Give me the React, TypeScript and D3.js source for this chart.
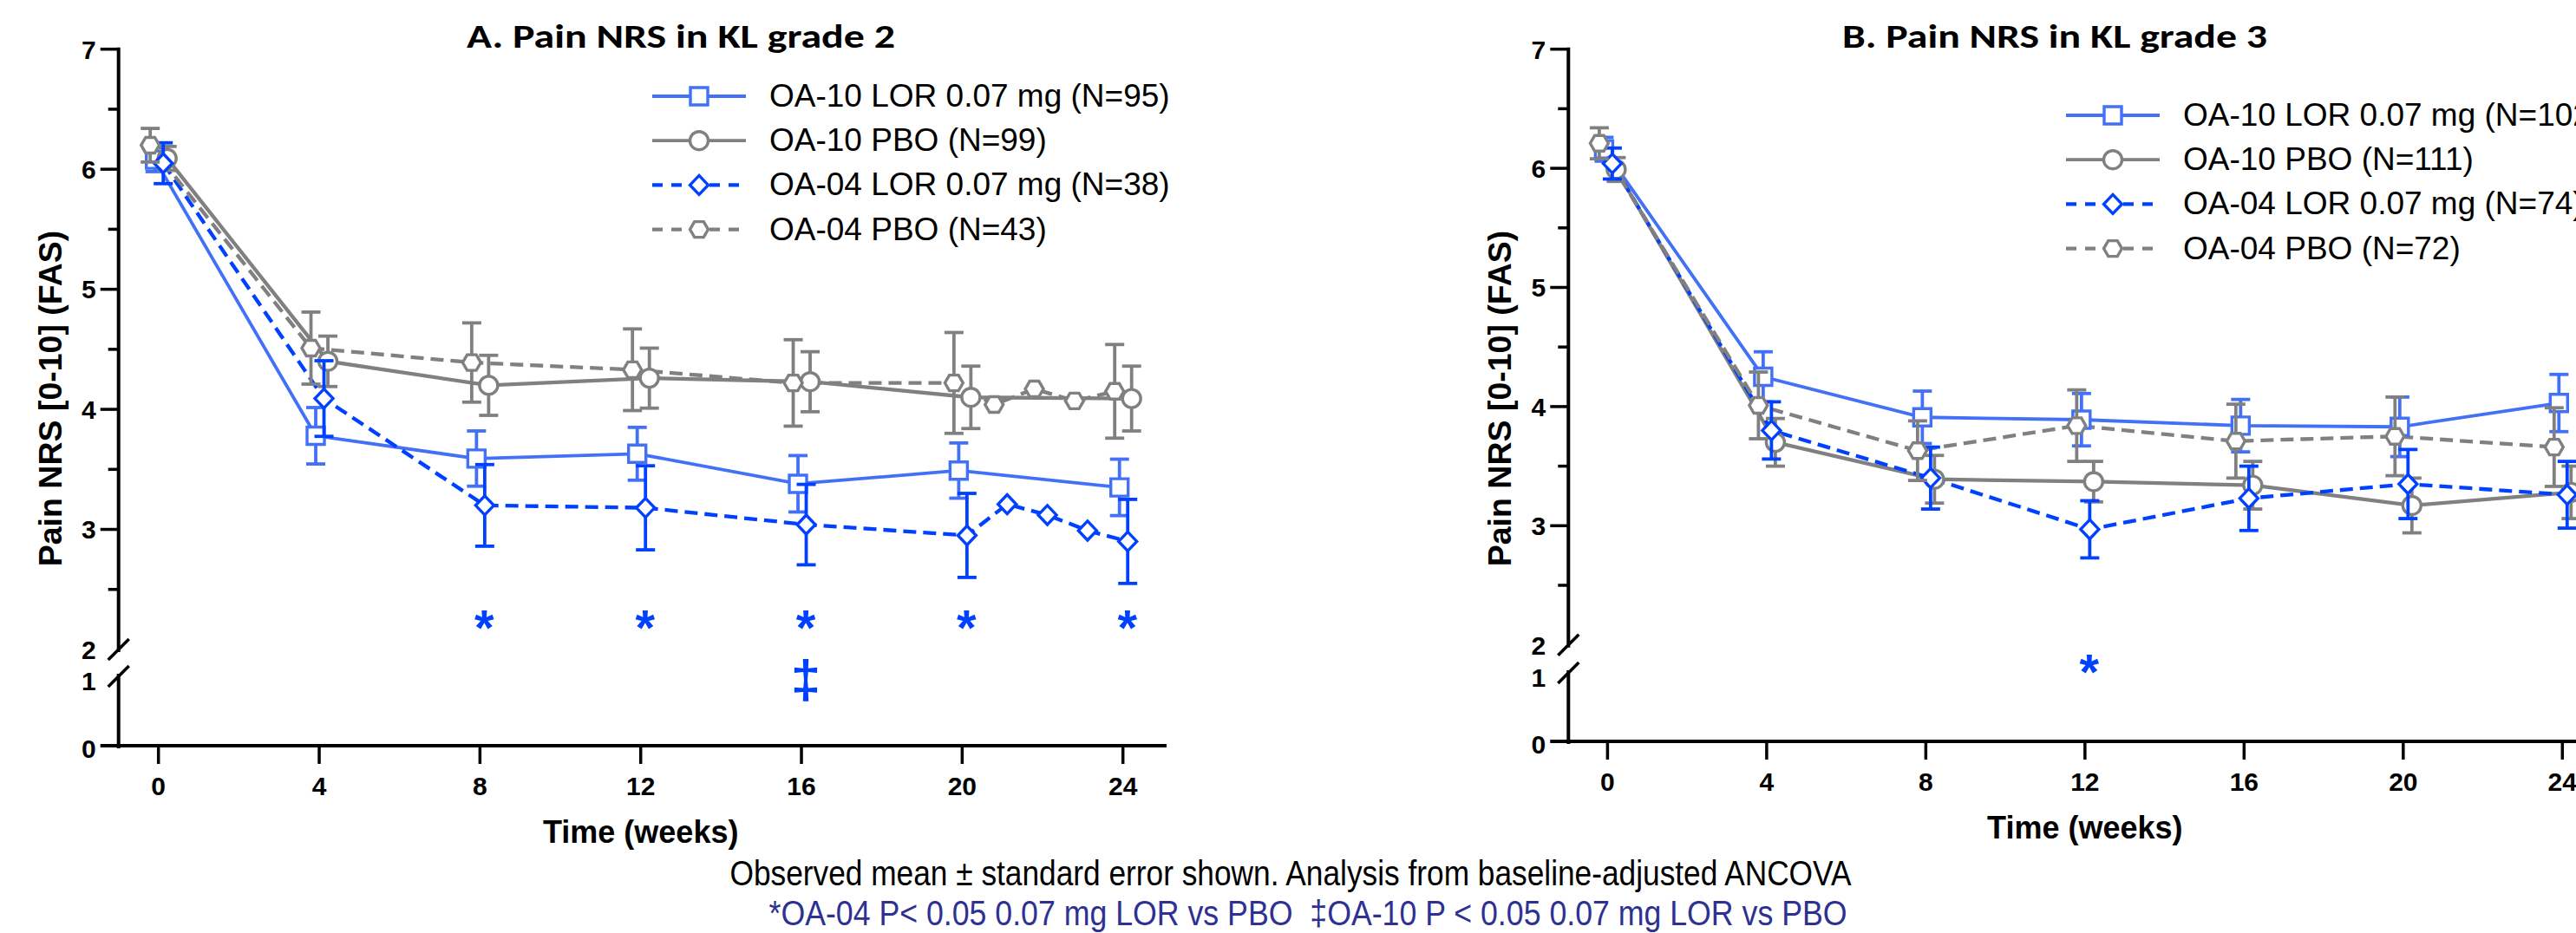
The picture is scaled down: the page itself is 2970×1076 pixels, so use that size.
import React from 'react';
import * as d3 from 'd3';

// time points (weeks)
const WEEKS = [0, 4, 8, 12, 16, 20, 24];
const WEEKS_A04 = [0, 4, 8, 12, 16, 20, 21, 22, 23, 24];
const X_TICKS = [0, 4, 8, 12, 16, 20, 24];
const Y_MAJOR = [3, 4, 5, 6, 7];
const Y_MINOR = [2.5, 3.5, 4.5, 5.5, 6.5];

const SERIES_NAMES = ['OA-10 LOR 0.07 mg', 'OA-10 PBO', 'OA-04 LOR 0.07 mg', 'OA-04 PBO'];
const N_A = [95, 99, 38, 43];
const N_B = [102, 111, 74, 72];

// panel A - KL grade 2
const A_LOR10 = [6.08, 3.78, 3.59, 3.63, 3.38, 3.49, 3.35];
const A_LOR10_SE = [0.1, 0.235, 0.23, 0.22, 0.235, 0.23, 0.235];
const A_PBO10 = [6.09, 4.4, 4.2, 4.26, 4.23, 4.1, 4.09];
const A_PBO10_SE = [0.1, 0.21, 0.25, 0.25, 0.25, 0.26, 0.27];
const A_LOR04 = [6.05, 4.09, 3.2, 3.18, 3.04, 2.95, 3.21, 3.12, 2.99, 2.9];
const A_LOR04_SE = [0.17, 0.315, 0.34, 0.35, 0.335, 0.35, null, null, null, 0.35];
const A_PBO04 = [6.2, 4.51, 4.39, 4.33, 4.22, 4.22, 4.04, 4.17, 4.07, 4.15];
const A_PBO04_SE = [0.14, 0.3, 0.33, 0.34, 0.36, 0.42, null, null, null, 0.39];

// panel B - KL grade 3
const B_LOR10 = [6.16, 4.25, 3.91, 3.89, 3.84, 3.83, 4.03];
const B_LOR10_SE = [0.1, 0.21, 0.22, 0.22, 0.22, 0.25, 0.24];
const B_PBO10 = [5.99, 3.7, 3.39, 3.37, 3.34, 3.17, 3.28];
const B_PBO10_SE = [0.1, 0.2, 0.2, 0.17, 0.2, 0.23, 0.22];
const B_LOR04 = [6.04, 3.8, 3.4, 2.97, 3.23, 3.35, 3.26];
const B_LOR04_SE = [0.13, 0.24, 0.26, 0.24, 0.27, 0.29, 0.28];
const B_PBO04 = [6.21, 4.01, 3.63, 3.84, 3.71, 3.75, 3.66];
const B_PBO04_SE = [0.13, 0.28, 0.25, 0.3, 0.31, 0.33, 0.33];

// significance marks
const A_STAR_WEEKS = [8, 12, 16, 20, 24];
const A_DAGGER_WEEKS = [16];
const B_STAR_WEEKS = [12];

const BLUE10 = '#4270F6';
const BLUE04 = '#0041FF';
const GRAY = '#808080';
const NAVY = '#2E3192';

const STYLES = [
  { color: BLUE10, dash: null, marker: 'square', dx: -4, width: 3.8 },
  { color: GRAY, dash: null, marker: 'circle', dx: 10, width: 4.3 },
  { color: BLUE04, dash: '15,8', marker: 'diamond', dx: 5.5, width: 4.3 },
  { color: GRAY, dash: '15,8', marker: 'hexagon', dx: -9.5, width: 4.3 },
];
const LEGEND_DASH = '12,10';

const ARIAL = "'Liberation Sans', Arial, sans-serif";
const NARROW = "'Liberation Sans Narrow', 'Arial Narrow', 'Liberation Sans', sans-serif";

function markerPath(type: string) {
  if (type === 'square') return 'M-10,-10H10V10H-10Z';
  if (type === 'diamond') return 'M0,-11L10.5,0L0,11L-10.5,0Z';
  if (type === 'hexagon') return 'M-10.5,0L-5.25,-9L5.25,-9L10.5,0L5.25,9L-5.25,9Z';
  return d3.arc()({ innerRadius: 0, outerRadius: 10.5, startAngle: 0, endAngle: 2 * Math.PI }) as string;
}

function Marker({ type, color, x, y }: any) {
  return (
    <path d={markerPath(type)} transform={`translate(${x},${y})`} fill="#fff" stroke={color} strokeWidth={3.4} />
  );
}

function Panel({ p }: any) {
  const x = d3.scaleLinear().domain([0, 24]).range(p.xRange);
  const y = d3.scaleLinear().domain([2, 7]).range([p.y2, p.y7]);
  const yLow = d3.scaleLinear().domain([0, 1]).range([p.y0, p.y1]);
  const ax = p.axisX;

  const series = p.series.map((s: any, i: number) => ({ ...s, ...STYLES[i], name: SERIES_NAMES[i], n: p.n[i] }));
  const line = d3.line<any>().x((d) => d[0]).y((d) => d[1]);

  return (
    <g>
      <text x={p.titleX} y={55} textAnchor="middle" fontFamily="Carlito, Calibri, Lato, sans-serif" fontWeight="bold" fontSize={39} textLength={p.titleLen} lengthAdjust="spacingAndGlyphs">{p.title}</text>

      {/* y axis */}
      <line x1={ax} x2={ax} y1={p.y7 - 2} y2={p.y2 + 3} stroke="#000" strokeWidth={4} />
      <line x1={ax} x2={ax} y1={p.y1 - 4} y2={p.y0 + 3} stroke="#000" strokeWidth={4} />
      {[p.y2, p.y1 - 1].map((yy: number, i: number) => (
        <line key={i} x1={ax - 12} y1={yy + 12} x2={ax + 12} y2={yy - 12} stroke="#000" strokeWidth={3.5} />
      ))}
      {Y_MAJOR.map((v) => (
        <g key={v}>
          <line x1={ax - 21} x2={ax} y1={y(v)} y2={y(v)} stroke="#000" strokeWidth={3.5} />
          <text x={ax - 26} y={y(v)} dy="0.36em" textAnchor="end" fontFamily={ARIAL} fontWeight="bold" fontSize={30}>{v}</text>
        </g>
      ))}
      {Y_MINOR.map((v) => (
        <line key={v} x1={ax - 12} x2={ax} y1={y(v)} y2={y(v)} stroke="#000" strokeWidth={3.5} />
      ))}
      <text x={ax - 26} y={y(2)} dy="0.36em" textAnchor="end" fontFamily={ARIAL} fontWeight="bold" fontSize={30}>2</text>
      <text x={ax - 26} y={yLow(1) + 4} dy="0.36em" textAnchor="end" fontFamily={ARIAL} fontWeight="bold" fontSize={30}>1</text>
      <text x={ax - 26} y={yLow(0) + 3} dy="0.36em" textAnchor="end" fontFamily={ARIAL} fontWeight="bold" fontSize={30}>0</text>
      <text transform={`translate(${ax - 66},459.5) rotate(-90)`} textAnchor="middle" fontFamily={ARIAL} fontWeight="bold" fontSize={37.5}>Pain NRS [0-10] (FAS)</text>

      {/* x axis */}
      <line x1={ax - 21} x2={p.xEnd} y1={p.y0} y2={p.y0} stroke="#000" strokeWidth={4} />
      {X_TICKS.map((t) => (
        <g key={t}>
          <line x1={x(t)} x2={x(t)} y1={p.y0} y2={p.y0 + 21} stroke="#000" strokeWidth={3.5} />
          <text x={x(t)} y={p.y0 + 57} textAnchor="middle" fontFamily={ARIAL} fontWeight="bold" fontSize={30}>{t}</text>
        </g>
      ))}
      <text x={x(12)} y={p.y0 + 112} textAnchor="middle" fontFamily={ARIAL} fontWeight="bold" fontSize={36}>Time (weeks)</text>

      {/* lines */}
      {series.map((s: any, i: number) => (
        <path key={i} d={line(s.weeks.map((w: number, j: number) => [x(w) + s.dx, y(s.mean[j])])) as string}
          fill="none" stroke={s.color} strokeWidth={s.width} strokeDasharray={s.dash || undefined} />
      ))}

      {/* error bars + markers */}
      {series.map((s: any, i: number) => (
        <g key={i}>
          {s.weeks.map((w: number, j: number) => {
            const se = s.se[j];
            if (se == null) return null;
            const cx = x(w) + s.dx;
            return (
              <g key={j} stroke={s.color} strokeWidth={3.8}>
                <line x1={cx} x2={cx} y1={y(s.mean[j] + se)} y2={y(s.mean[j] - se)} />
                <line x1={cx - 11} x2={cx + 11} y1={y(s.mean[j] + se)} y2={y(s.mean[j] + se)} />
                <line x1={cx - 11} x2={cx + 11} y1={y(s.mean[j] - se)} y2={y(s.mean[j] - se)} />
              </g>
            );
          })}
          {s.weeks.map((w: number, j: number) => (
            <Marker key={j} type={s.marker} color={s.color} x={x(w) + s.dx} y={y(s.mean[j])} />
          ))}
        </g>
      ))}

      {/* significance */}
      {p.stars.map((w: number) => (
        <text key={w} x={x(w) + 5} y={y(p.starV) + 33} textAnchor="middle" fontFamily={ARIAL} fontWeight="bold" fontSize={58} fill={BLUE04}>*</text>
      ))}
      {p.daggers.map((w: number) => (
        <text key={w} x={x(w) + 5} y={yLow(p.daggerV) + 17} textAnchor="middle" fontFamily={ARIAL} fontWeight="bold" fontSize={62} fill={BLUE04}>‡</text>
      ))}

      {/* legend */}
      {series.map((s: any, i: number) => {
        const ly = p.legendY + i * 51.2;
        return (
          <g key={i}>
            <line x1={p.legendX} x2={p.legendX + 108} y1={ly} y2={ly} stroke={s.color} strokeWidth={s.dash ? 4.3 : 3.8} strokeDasharray={s.dash ? LEGEND_DASH : undefined} />
            <Marker type={s.marker} color={s.color} x={p.legendX + 54} y={ly} />
            <text x={p.legendX + 135} y={ly + 12} fontFamily={ARIAL} fontSize={37}>{`${s.name} (N=${s.n})`}</text>
          </g>
        );
      })}
    </g>
  );
}

const PANEL_A = {
  title: 'A. Pain NRS in KL grade 2', titleX: 785, titleLen: 494,
  axisX: 136.7, xRange: [182.7, 1294.7], xEnd: 1345,
  y7: 56.7, y2: 749, y1: 781, y0: 860,
  legendX: 752, legendY: 111, n: N_A,
  stars: A_STAR_WEEKS, starV: 2.275, daggers: A_DAGGER_WEEKS, daggerV: 0.93,
  series: [
    { weeks: WEEKS, mean: A_LOR10, se: A_LOR10_SE },
    { weeks: WEEKS, mean: A_PBO10, se: A_PBO10_SE },
    { weeks: WEEKS_A04, mean: A_LOR04, se: A_LOR04_SE },
    { weeks: WEEKS_A04, mean: A_PBO04, se: A_PBO04_SE },
  ],
};

const PANEL_B = {
  title: 'B. Pain NRS in KL grade 3', titleX: 2369, titleLen: 490,
  axisX: 1808.3, xRange: [1853.4, 2954.3], xEnd: 2990,
  y7: 56.7, y2: 743.7, y1: 777, y0: 855,
  legendX: 2382, legendY: 133, n: N_B,
  stars: B_STAR_WEEKS, starV: 1.87, daggers: [], daggerV: 0.93,
  series: [
    { weeks: WEEKS, mean: B_LOR10, se: B_LOR10_SE },
    { weeks: WEEKS, mean: B_PBO10, se: B_PBO10_SE },
    { weeks: WEEKS, mean: B_LOR04, se: B_LOR04_SE },
    { weeks: WEEKS, mean: B_PBO04, se: B_PBO04_SE },
  ],
};

export default function App() {
  return (
    <svg width={2970} height={1076} viewBox="0 0 2970 1076"
      style={{ position: 'absolute', left: 0, top: 0, background: '#fff', display: 'block' }}>
      <rect width={2970} height={1076} fill="#fff" />
      <Panel p={PANEL_A} />
      <Panel p={PANEL_B} />
      <text x={1488} y={1020.5} textAnchor="middle" fontFamily={NARROW} fontSize={40} textLength={1293} lengthAdjust="spacingAndGlyphs">
        Observed mean ± standard error shown. Analysis from baseline-adjusted ANCOVA
      </text>
      <text x={1508} y={1067} textAnchor="middle" fontFamily={NARROW} fontSize={40} fill={NAVY} textLength={1243} lengthAdjust="spacingAndGlyphs" xmlSpace="preserve">
        {'*OA-04 P< 0.05 0.07 mg LOR vs PBO  \u2021OA-10 P < 0.05 0.07 mg LOR vs PBO'}
      </text>
    </svg>
  );
}
